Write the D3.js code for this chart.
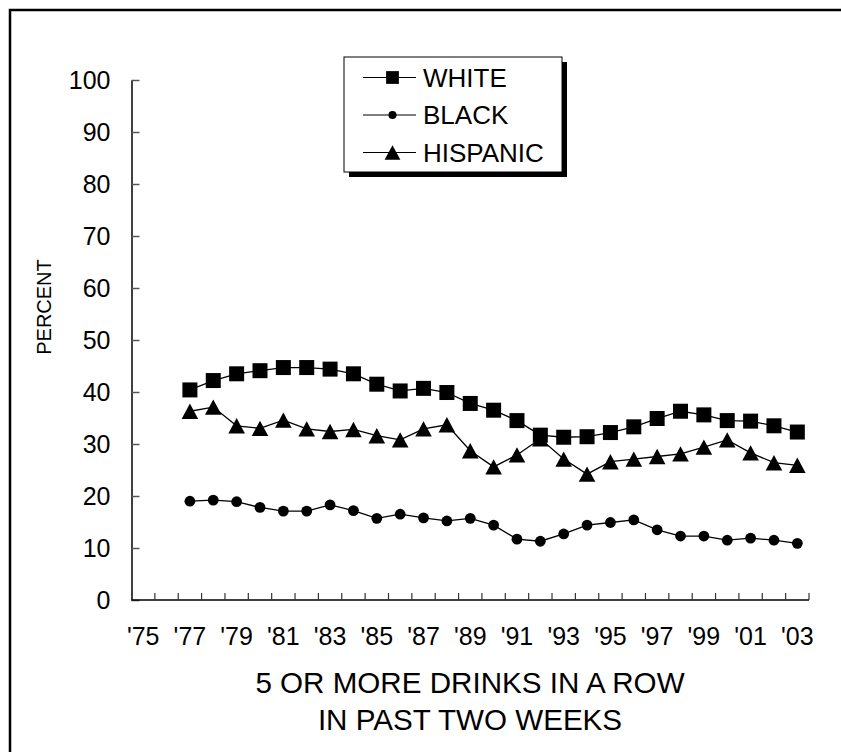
<!DOCTYPE html>
<html><head><meta charset="utf-8">
<script src="https://cdn.jsdelivr.net/npm/d3@7"></script>
<style>
html,body{margin:0;padding:0;background:#fff;}
svg{display:block;font-family:Arial,"Liberation Sans",sans-serif;}
</style></head>
<body>
<svg id="chart" width="841" height="752"></svg>
<script>
const categories = d3.range(1975, 2004);
const dataYears = d3.range(1977, 2004);
const white = [40.4,42.2,43.5,44.1,44.7,44.7,44.4,43.5,41.5,40.2,40.7,39.9,37.8,36.5,34.5,31.7,31.3,31.4,32.2,33.3,34.9,36.3,35.6,34.5,34.4,33.5,32.3];
const black = [19.0,19.2,18.9,17.8,17.1,17.1,18.3,17.2,15.7,16.5,15.8,15.2,15.7,14.4,11.7,11.3,12.7,14.4,14.9,15.4,13.5,12.3,12.3,11.5,11.9,11.5,10.9];
const hispanic = [36.3,37.1,33.5,33.0,34.6,32.9,32.4,32.8,31.6,30.8,32.9,33.7,28.7,25.6,27.9,31.0,27.1,24.2,26.6,27.1,27.6,28.1,29.4,30.8,28.3,26.4,25.9];
const yTicks = [0,10,20,30,40,50,60,70,80,90,100];
const xLabelYears = d3.range(1975, 2004, 2);
const seriesNames = ["WHITE","BLACK","HISPANIC"];
const titleLines = ["5 OR MORE DRINKS IN A ROW","IN PAST TWO WEEKS"];
const yTitle = "PERCENT";

const svg = d3.select("#chart");
// outer frame
svg.append("rect").attr("x",10).attr("y",10).attr("width",840).attr("height",750)
  .attr("fill","none").attr("stroke","#000").attr("stroke-width",2.5);

const x = d3.scaleBand().domain(categories).range([131.5, 809]).padding(0);
const y = d3.scaleLinear().domain([0,100]).range([600, 80]);
const cx = yr => x(yr) + x.bandwidth()/2;

// Y axis
const yAxis = svg.append("g").attr("transform","translate(131.5,0)")
  .call(d3.axisLeft(y).tickValues(yTicks).tickSizeInner(-8).tickSizeOuter(0).tickPadding(21));
yAxis.select(".domain").attr("stroke","#000").attr("stroke-width",1.5);
yAxis.selectAll(".tick line").attr("stroke","#555").attr("stroke-width",1.5);
yAxis.selectAll(".tick text").attr("font-size",25).attr("fill","#000")
  .attr("font-family","Arial, 'Liberation Sans', sans-serif");

// X axis labels
const xAxis = svg.append("g").attr("transform","translate(0,600)")
  .call(d3.axisBottom(x).tickValues(xLabelYears).tickSize(0).tickPadding(27)
    .tickFormat(d => "'" + String(d).slice(2)));
xAxis.select(".domain").remove();
xAxis.selectAll(".tick text").attr("font-size",25).attr("fill","#000")
  .attr("font-family","Arial, 'Liberation Sans', sans-serif");
// x axis line and boundary ticks
svg.append("line").attr("x1",x.range()[0]).attr("x2",x.range()[1]).attr("y1",y(0)).attr("y2",y(0))
  .attr("stroke","#000").attr("stroke-width",1.5);
svg.append("g").selectAll("line").data(categories).join("line")
  .attr("x1", d => x(d) + x.bandwidth()).attr("x2", d => x(d) + x.bandwidth())
  .attr("y1", y(0)).attr("y2", y(0) - 7)
  .attr("stroke","#333").attr("stroke-width",1.2);

// Y title
svg.append("text").attr("transform","translate(51,307) rotate(-90)")
  .attr("text-anchor","middle").attr("font-size",20).text(yTitle);

// chart title
svg.selectAll(".title").data(titleLines).join("text").attr("class","title")
  .attr("x",470).attr("y",(d,i)=>693 + i*36.5).attr("text-anchor","middle")
  .attr("font-size",29.6).text(d=>d);

// series
const line = d3.line().x((d,i)=>cx(dataYears[i])).y(d=>y(d));
function markers(g, vals, type, scale){
  const s = scale||1;
  vals.forEach((v,i)=>{
    const px = cx(dataYears[i]), py = y(v);
    drawMarker(g, px, py, type, s);
  });
}
function drawMarker(g, px, py, type, s){
  if(type==="square"){
    const w = 15*s;
    g.append("rect").attr("x",px-w/2).attr("y",py-w/2).attr("width",w).attr("height",w).attr("fill","#000");
  } else if(type==="circle"){
    g.append("circle").attr("cx",px).attr("cy",py).attr("r",5.4*s).attr("fill","#000");
  } else {
    const hw = 8.3*s, hh = 7.7*s;
    g.append("path").attr("d",`M${px},${py-hh}L${px+hw},${py+hh}L${px-hw},${py+hh}Z`).attr("fill","#000");
  }
}
const series = [[white,"square"],[black,"circle"],[hispanic,"triangle"]];
series.forEach(([vals,type])=>{
  svg.append("path").datum(vals).attr("d",line).attr("fill","none").attr("stroke","#000").attr("stroke-width",1.3);
});
series.forEach(([vals,type])=>{
  markers(svg.append("g"), vals, type);
});

// legend
const lg = svg.append("g");
lg.append("rect").attr("x",349).attr("y",62).attr("width",218).attr("height",115).attr("fill","#000");
lg.append("rect").attr("x",344).attr("y",57).attr("width",218).attr("height",115).attr("fill","#fff").attr("stroke","#000").attr("stroke-width",1);
const legTypes = ["square","circle","triangle"];
const legScale = [0.85,0.75,0.95];
seriesNames.forEach((name,i)=>{
  const ry = 77.5 + i*37.5;
  lg.append("line").attr("x1",363).attr("x2",416).attr("y1",ry).attr("y2",ry).attr("stroke","#000").attr("stroke-width",1.2);
  drawMarker(lg, 392.5, ry, legTypes[i], legScale[i]);
  lg.append("text").attr("x",423).attr("y",ry+9.2).attr("font-size",26).text(name);
});
</script>
</body></html>
